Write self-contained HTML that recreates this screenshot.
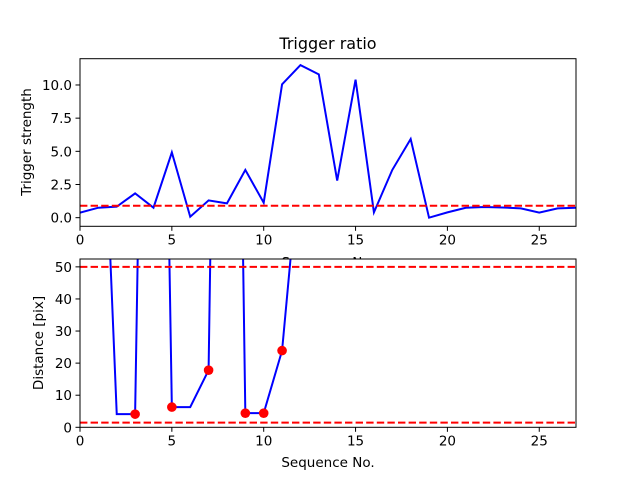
<!DOCTYPE html>
<html><head><meta charset="utf-8"><style>
body{margin:0;background:#fff}
svg{display:block;font-family:"DejaVu Sans","Liberation Sans",sans-serif}
</style></head><body>
<svg id="fig" width="640" height="480"></svg>
<script>
const seq = Array.from({length:28},(_, i)=>i);
const triggerStrength = [0.38,0.75,0.83,1.83,0.75,4.92,0.07,1.3,1.08,3.6,1.13,10.05,11.5,10.8,2.8,10.4,0.4,3.6,5.93,0.0,0.4,0.75,0.8,0.77,0.7,0.38,0.7,0.75];
const triggerThreshold = 0.9;
const distance = [300,143,4.1,4.1,350,6.3,6.3,17.8,400,4.4,4.4,23.9,86,300,300,300,300,300,300,300,300,300,300,300,300,300,300,300];
const markerIdx = [3,5,7,9,10,11];
const distUpper = 50, distLower = 1.45;
const xTicks = [0,5,10,15,20,25];
const topYTicks = [0,2.5,5,7.5,10];
const topYLabels = ["0.0","2.5","5.0","7.5","10.0"];
const botYTicks = [0,10,20,30,40,50];

const NS="http://www.w3.org/2000/svg";
const svg=document.getElementById('fig');
function mk(tag,attrs,parent){const e=document.createElementNS(NS,tag);for(const k in attrs)e.setAttribute(k,attrs[k]);(parent||svg).appendChild(e);return e;}
const X0=80,X1=576;
const xs=v=>X0+(v-0)/27*(X1-X0);
const topAx={y0:58.7,y1:226.3,min:-0.65,max:11.98};
const botAx={y0:259,y1:427.3,min:0,max:52.45};
const ysOf=ax=>v=>ax.y1-(v-ax.min)/(ax.max-ax.min)*(ax.y1-ax.y0);
const yT=ysOf(topAx), yB=ysOf(botAx);

const defs=mk('defs',{});
const c1=mk('clipPath',{id:'c1'},defs);mk('rect',{x:X0,y:topAx.y0,width:X1-X0,height:topAx.y1-topAx.y0},c1);
const c2=mk('clipPath',{id:'c2'},defs);mk('rect',{x:X0,y:botAx.y0,width:X1-X0,height:botAx.y1-botAx.y0},c2);

function axes(ax,name){
  const g=mk('g',{});
  
  
  mk('rect',{x:X0,y:ax.y0,width:X1-X0,height:ax.y1-ax.y0,fill:'#fff',stroke:'none'},g);
  return g;
}
function frame(ax,ys,yt,yl,name){
  const g=mk('g',{});
  
  
  mk('rect',{x:X0,y:ax.y0,width:X1-X0,height:ax.y1-ax.y0,fill:'none',stroke:'#000','stroke-width':1}, g);
  xTicks.forEach(t=>{const x=xs(t);mk('line',{x1:x,x2:x,y1:ax.y1,y2:ax.y1+4.5,stroke:'#000','stroke-width':1},g);
    const tx=mk('text',{x:x,y:ax.y1+18,'text-anchor':'middle','font-size':13.5},g);tx.textContent=t;
    });
  yt.forEach((t,i)=>{const y=ys(t);mk('line',{x1:X0-4.5,x2:X0,y1:y,y2:y,stroke:'#000','stroke-width':1},g);
    const tx=mk('text',{x:X0-8,y:y+5,'text-anchor':'end','font-size':13.5},g);tx.textContent=yl[i];
    });
}
function line(vals,ys,clip,name){
  const d=vals.map((v,i)=>(i?'L':'M')+xs(seq[i]).toFixed(2)+','+ys(v).toFixed(2)).join('');
  const p=mk('path',{d:d,fill:'none',stroke:'#0000ff','stroke-width':2,'clip-path':'url(#'+clip+')'});
  
}
function hline(v,ys,clip,name){
  const y=ys(v);
  const l=mk('line',{x1:X0,x2:X1,y1:y,y2:y,stroke:'#ff0000','stroke-width':2,'stroke-dasharray':'7.4,3.2','clip-path':'url(#'+clip+')'});
  
}

axes(topAx,'trigger-axes');
line(triggerStrength,yT,'c1','trigger-strength-line');
hline(triggerThreshold,yT,'c1','trigger-threshold-line');
frame(topAx,yT,topYTicks,topYLabels,'trigger-axes');
let t=mk('text',{x:328,y:49,'text-anchor':'middle','font-size':16});t.textContent='Trigger ratio';

t=mk('text',{x:0,y:0,'text-anchor':'middle','font-size':13.5,transform:'translate(31,142) rotate(-90)'});t.textContent='Trigger strength';

t=mk('text',{x:328,y:267,'text-anchor':'middle','font-size':13.5});t.textContent='Sequence No.';


axes(botAx,'distance-axes');
line(distance,yB,'c2','distance-line');
hline(distUpper,yB,'c2','distance-upper-line');
hline(distLower,yB,'c2','distance-lower-line');
markerIdx.forEach(i=>{
  const c=mk('circle',{cx:xs(seq[i]),cy:yB(distance[i]),r:4.8,fill:'#ff0000','clip-path':'url(#c2)'});
  
  
});
frame(botAx,yB,botYTicks,botYTicks,'distance-axes');
t=mk('text',{x:0,y:0,'text-anchor':'middle','font-size':13.5,transform:'translate(43,343) rotate(-90)'});t.textContent='Distance [pix]';

t=mk('text',{x:328,y:467,'text-anchor':'middle','font-size':13.5});t.textContent='Sequence No.';

</script>
</body></html>
